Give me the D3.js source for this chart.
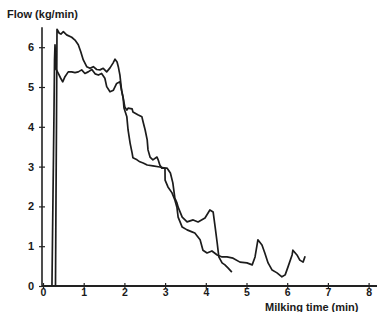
<!DOCTYPE html>
<html>
<head>
<meta charset="utf-8">
<script src="https://cdn.jsdelivr.net/npm/d3@7/dist/d3.min.js"></script>
<style>
  body { margin: 0; background: #fff; }
  svg { display: block; }
  text { font-family: "Liberation Sans", Arial, sans-serif; font-weight: bold; fill: #1a1a1a; }
</style>
</head>
<body>
<div id="chart"></div>
<script>
// milking curves, time in min / flow in kg/min
const xTicks = [0, 1, 2, 3, 4, 5, 6, 7, 8];
const yTicks = [0, 1, 2, 3, 4, 5, 6];

const cowA_t = [0.307, 0.319, 0.332, 0.344, 0.40, 0.44, 0.50, 0.58, 0.705, 0.786, 0.867, 0.926, 0.99, 1.074, 1.155, 1.236, 1.319, 1.40, 1.48, 1.565, 1.646, 1.72, 1.77, 1.82, 1.85, 1.89, 1.93, 1.97, 1.99,
  2.06, 2.09, 2.14, 2.19, 2.21, 2.31, 2.38, 2.46, 2.56, 2.70, 2.87, 2.997, 3.0, 3.07, 3.17, 3.24, 3.29, 3.32, 3.42, 3.54, 3.66, 3.73, 3.86, 3.93, 4.03, 4.15, 4.28, 4.40, 4.52, 4.67, 4.84, 5.01, 5.14,
  5.21, 5.28, 5.38, 5.45, 5.53, 5.63, 5.75, 5.87, 5.95, 6.02, 6.12, 6.14, 6.24, 6.31, 6.39, 6.44];
const cowA_v = [0, 2.16, 4.17, 6.45, 6.35, 6.33, 6.39, 6.31, 6.25, 6.18, 6.06, 5.89, 5.68, 5.51, 5.47, 5.51, 5.44, 5.43, 5.47, 5.38, 5.48, 5.60, 5.70, 5.63, 5.51, 5.30, 4.92, 4.72, 4.47,
  4.25, 3.92, 3.59, 3.34, 3.22, 3.17, 3.12, 3.09, 3.04, 3.02, 2.99, 2.96, 2.66, 2.49, 2.34, 2.16, 1.98, 1.73, 1.48, 1.41, 1.36, 1.33, 1.16, 0.90, 0.83, 0.88, 0.78, 0.73, 0.73, 0.70, 0.60, 0.58, 0.53,
  0.73, 1.16, 1.03, 0.83, 0.58, 0.40, 0.33, 0.23, 0.28, 0.48, 0.78, 0.90, 0.78, 0.65, 0.60, 0.75];

const cowB_t = [0.22, 0.233, 0.246, 0.258, 0.27, 0.283, 0.295, 0.32, 0.376, 0.435, 0.484, 0.54, 0.62, 0.705, 0.786, 0.867, 0.95, 1.03, 1.11, 1.20, 1.28, 1.36, 1.44, 1.52, 1.565, 1.646, 1.73, 1.81, 1.89,
  1.94, 1.98, 2.01, 2.06, 2.09, 2.19, 2.21, 2.33, 2.43, 2.46, 2.51, 2.56, 2.58, 2.63, 2.70, 2.80, 2.83, 2.87, 2.92, 3.05, 3.13, 3.19, 3.24, 3.29, 3.32, 3.42, 3.54, 3.69, 3.81, 3.98, 4.10, 4.18,
  4.23, 4.28, 4.32, 4.40, 4.47, 4.55, 4.64];
const cowB_v = [0, 1.16, 2.29, 3.29, 4.35, 5.68, 6.06, 5.45, 5.34, 5.22, 5.13, 5.26, 5.38, 5.38, 5.36, 5.38, 5.43, 5.34, 5.38, 5.44, 5.33, 5.30, 5.34, 5.22, 5.01, 4.88, 4.92, 5.09, 5.13,
  4.87, 4.67, 4.50, 4.42, 4.47, 4.45, 4.37, 4.30, 4.25, 4.12, 3.92, 3.67, 3.42, 3.24, 3.17, 3.24, 3.17, 3.04, 2.96, 2.96, 2.84, 2.59, 2.21, 2.09, 1.98, 1.73, 1.61, 1.66, 1.61, 1.71, 1.91, 1.86,
  1.48, 1.08, 0.73, 0.58, 0.53, 0.45, 0.35];

const W = 377, H = 312;

const svg = d3.select("#chart").append("svg")
    .attr("width", W)
    .attr("height", H);

// scales
const x = d3.scaleLinear().domain([0, 8]).range([43, 368.6]);
const y = d3.scaleLinear().domain([0, 6]).range([286, 47.2]);

// x axis
const xAxis = d3.axisBottom(x)
    .tickValues(xTicks)
    .tickFormat(d3.format("d"))
    .tickSize(3)
    .tickSizeOuter(0);
const xg = svg.append("g")
    .attr("transform", "translate(0," + y(0) + ")")
    .call(xAxis);
xg.select(".domain").remove();
xg.selectAll(".tick line").attr("y1", -3).attr("stroke", "#222").attr("stroke-width", 1.2);
xg.selectAll(".tick text")
    .attr("y", 3)
    .attr("font-size", "10.5px")
    .attr("font-family", null);

// y axis
const yAxis = d3.axisLeft(y)
    .tickValues(yTicks)
    .tickFormat(d3.format("d"))
    .tickSize(3)
    .tickSizeOuter(0);
const yg = svg.append("g")
    .attr("transform", "translate(42,0)")
    .call(yAxis);
yg.select(".domain").remove();
yg.selectAll(".tick line").attr("x1", 3).attr("stroke", "#222").attr("stroke-width", 1.2);
yg.selectAll(".tick text")
    .attr("x", -8)
    .attr("font-size", "11px")
    .attr("font-family", null);

// axis lines (y goes up past 6)
svg.append("line")
    .attr("x1", 42).attr("x2", W)
    .attr("y1", y(0)).attr("y2", y(0))
    .attr("stroke", "#222").attr("stroke-width", 1.8);
svg.append("line")
    .attr("x1", 42).attr("x2", 42)
    .attr("y1", y(0)).attr("y2", y(6.5))
    .attr("stroke", "#222").attr("stroke-width", 1.6);

// curves
const line = d3.line()
    .x(d => x(d[0]))
    .y(d => y(d[1]))
    .curve(d3.curveLinear);

[[cowA_t, cowA_v], [cowB_t, cowB_v]].forEach(s => {
    svg.append("path")
        .datum(d3.zip(s[0], s[1]))
        .attr("d", line)
        .attr("fill", "none")
        .attr("stroke", "#1c1c1c")
        .attr("stroke-width", 1.7)
        .attr("stroke-linejoin", "round");
});

// labels
svg.append("text")
    .attr("x", 7)
    .attr("y", 18)
    .attr("font-size", "11px")
    .text("Flow (kg/min)");

svg.append("text")
    .attr("x", 265)
    .attr("y", 310.5)
    .attr("font-size", "11px")
    .text("Milking time (min)");
</script>
</body>
</html>
